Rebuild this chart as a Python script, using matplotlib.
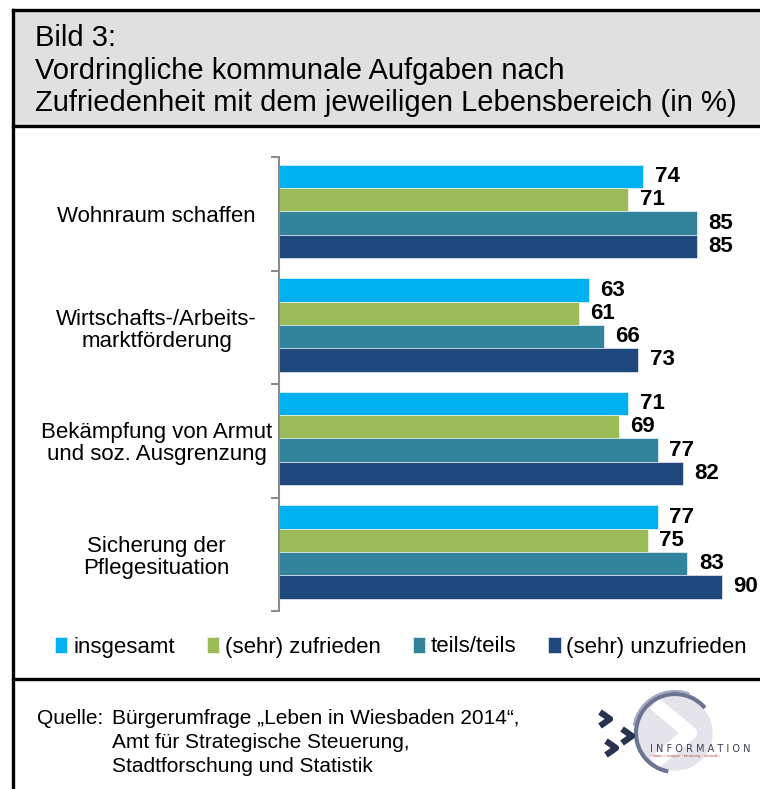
import numpy as np
import matplotlib.pyplot as plt
from matplotlib.patches import Rectangle, Arc, Circle

plt.rcParams['font.family'] = ['Liberation Sans', 'DejaVu Sans']

# data
categories = ['Wohnraum schaffen',
              'Wirtschafts-/Arbeits-\nmarktförderung',
              'Bekämpfung von Armut\nund soz. Ausgrenzung',
              'Sicherung der\nPflegesituation']
series = ['insgesamt', '(sehr) zufrieden', 'teils/teils', '(sehr) unzufrieden']
insgesamt   = [74, 63, 71, 77]
zufrieden   = [71, 61, 69, 75]
teils       = [85, 66, 77, 83]
unzufrieden = [85, 73, 82, 90]
values = [insgesamt, zufrieden, teils, unzufrieden]
colors = ['#00b0f0', '#9bbb59', '#31849b', '#1f497d']

W, H = 760, 789
def fx(x): return x / W
def fy(y): return 1 - y / H

fig = plt.figure(figsize=(W / 100, H / 100), dpi=100)

# frame: title box, separators
fig.patches.append(Rectangle((fx(13), fy(126)), fx(760) - fx(13), fy(10) - fy(126),
                             transform=fig.transFigure, facecolor='#e0e0e0',
                             edgecolor='none', zorder=0))
lk = dict(color='black', lw=2.4, transform=fig.transFigure)
fig.add_artist(plt.Line2D([fx(13), fx(13)], [fy(10), fy(789)], **lk))
fig.add_artist(plt.Line2D([fx(13), fx(760)], [fy(10), fy(10)], **lk))
fig.add_artist(plt.Line2D([fx(13), fx(760)], [fy(126), fy(126)], **lk))
fig.add_artist(plt.Line2D([fx(13), fx(760)], [fy(679), fy(679)], **lk))

# title
for txt, y in [('Bild 3:', 38),
               ('Vordringliche kommunale Aufgaben nach', 71),
               ('Zufriedenheit mit dem jeweiligen Lebensbereich (in %)', 103)]:
    fig.text(fx(35), fy(y), txt, fontsize=21, va='center', ha='left')

# chart
ax = fig.add_axes([fx(279), fy(611), fx(749) - fx(279), fy(157) - fy(611)])
n = len(categories)
h = 0.205
y = np.arange(n)
for i, (vals, col, name) in enumerate(zip(values, colors, series)):
    pos = y + (i - 1.5) * h - 0.02
    ax.barh(pos, vals, height=h, color=col, label=name,
            edgecolor='white', linewidth=0.4)
    for p, v in zip(pos, vals):
        ax.text(v + 2.3, p, str(v), va='center', ha='left',
                fontsize=16, fontweight='bold')

ax.set_xlim(0, 95.5)
ax.set_ylim(n - 0.5, -0.5)
ax.set_yticks(y)
ax.set_yticklabels(categories, fontsize=16, ha='center', multialignment='center',
                   linespacing=1.05)
ax.tick_params(axis='y', which='major', length=0, pad=88)
ax.set_yticks(np.arange(-0.5, n, 1), minor=True)
ax.tick_params(axis='y', which='minor', length=6, width=1.5, color='#8c8c8c')
ax.set_xticks([])
for s in ['top', 'right', 'bottom']:
    ax.spines[s].set_visible(False)
ax.spines['left'].set_color('#8c8c8c')
ax.spines['left'].set_linewidth(1.5)

# legend
handles, labels = ax.get_legend_handles_labels()
fig.legend(handles, labels, loc='center', bbox_to_anchor=(fx(401), fy(647)),
           ncol=4, frameon=False, fontsize=16, handlelength=0.55,
           handleheight=0.75, handletextpad=0.25, columnspacing=1.45)

# source
fig.text(fx(37), fy(718), 'Quelle:', fontsize=15, va='center')
for txt, yy in [('Bürgerumfrage \u201eLeben in Wiesbaden 2014\u201c,', 718),
                ('Amt für Strategische Steuerung,', 743),
                ('Stadtforschung und Statistik', 767)]:
    fig.text(fx(112), fy(yy), txt, fontsize=15, va='center')

# logo (approximation)
lax = fig.add_axes([fx(590), fy(785), fx(760) - fx(590), fy(690) - fy(785)])
lax.set_xlim(590, 760)
lax.set_ylim(785, 690)
lax.axis('off')
lax.add_patch(Circle((675, 733), 37, color='#e4e4ea', zorder=0))
lax.plot([660, 690, 660], [708, 733, 758], color='white', lw=10, zorder=1)
lax.add_patch(Arc((675, 733), 78, 78, theta1=100, theta2=320, color='#6c7494', lw=3))
lax.add_patch(Arc((675, 733), 84, 84, theta1=190, theta2=290, color='#a0a6bc', lw=1.5))
for cx, cy in [(605, 719), (627, 736), (611, 748)]:
    lax.plot([cx - 5, cx + 5, cx - 5], [cy - 7, cy, cy + 7], color='#27334f', lw=4.5,
             solid_capstyle='butt', zorder=3)
lax.text(650, 749, 'I N F O R M A T I O N', fontsize=7, color='#3a3f55', va='center',
         ha='left', family='DejaVu Sans', zorder=3)
lax.text(650, 756, '‹ daten › analyse › beratung › statistik ›', fontsize=3,
         color='#b05050', va='center', ha='left', zorder=3)

fig.savefig('out.png', dpi=100)
